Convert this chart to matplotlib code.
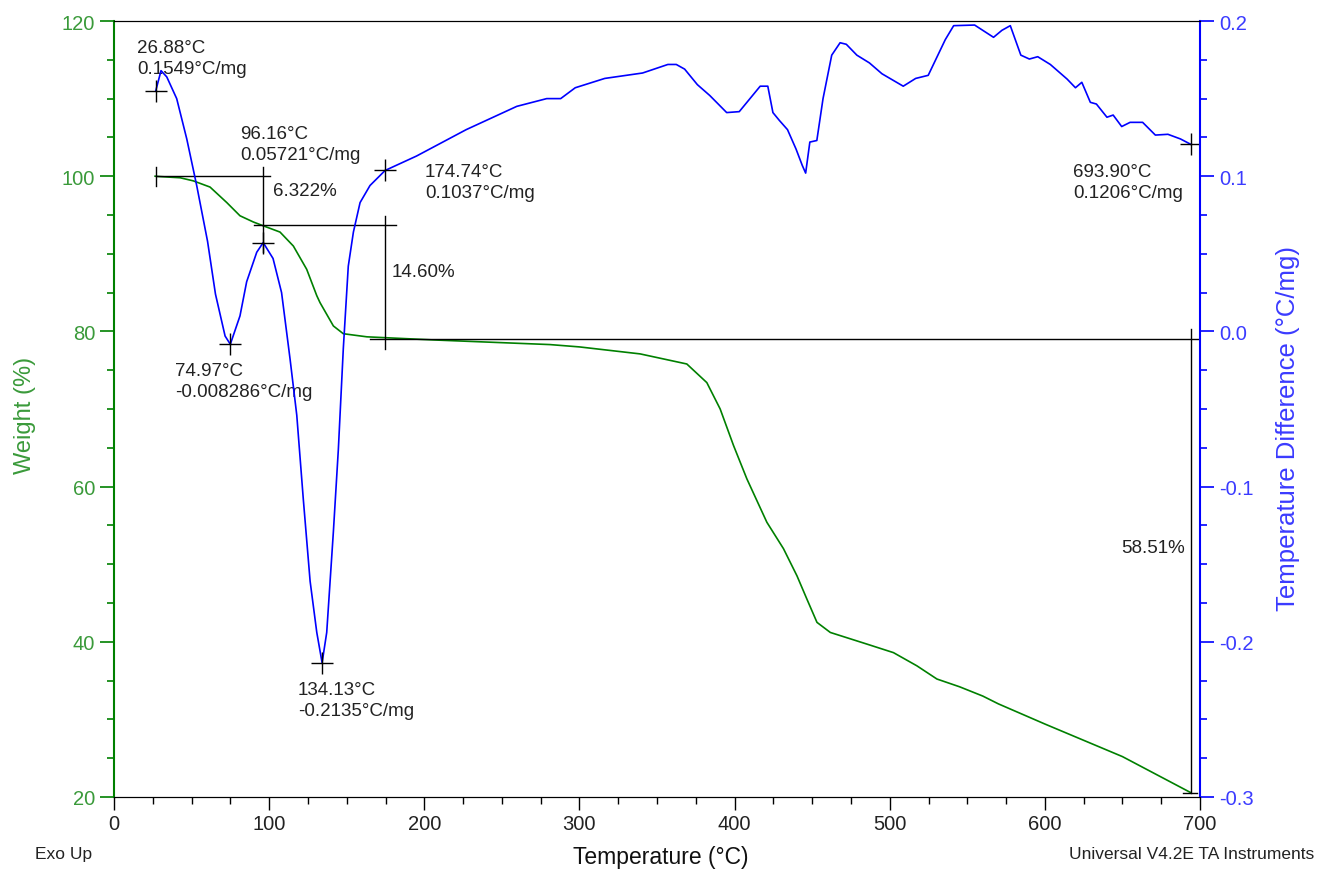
#importing libraries
import numpy as np
import matplotlib.pyplot as plt
from matplotlib.ticker import MultipleLocator

plt.rcParams['font.family'] = ['Liberation Sans', 'DejaVu Sans']

#Weight curve (TGA)
temp_w = [26.5, 29.7, 42.6, 51.1, 61.9, 72.7, 81.2, 89.8, 96.3, 107.0, 115.6, 124.2,
          130.7, 132.8, 141.4, 147.8, 163.0, 205.7, 281.0, 300.0, 339.1, 369.2, 382.1,
          390.7, 399.3, 407.9, 420.8, 431.5, 440.2, 446.6, 453.1, 461.7, 485.3, 502.4,
          517.5, 530.4, 545.0, 560.0, 570.0, 600.0, 650.0, 693.9]
weight = [100.0, 99.95, 99.8, 99.4, 98.6, 96.6, 94.9, 94.1, 93.6, 92.8, 91.0, 88.0,
          84.6, 83.7, 80.7, 79.7, 79.3, 78.9, 78.3, 78.0, 77.1, 75.8, 73.4,
          70.0, 65.3, 61.0, 55.4, 52.0, 48.5, 45.5, 42.5, 41.2, 39.7, 38.6,
          36.9, 35.2, 34.2, 33.0, 32.0, 29.4, 25.2, 20.57]

#Temperature difference curve (DTA)
temp_d = [26.88, 30.3, 34.0, 40.4, 46.9, 53.3, 60.3, 65.4, 71.6, 74.97, 81.2, 85.5, 92.0,
          96.16, 102.5, 108.0, 113.5, 117.8, 122.0, 126.4, 130.7, 134.13, 137.1, 141.4,
          144.6, 147.8, 151.0, 154.3, 158.6, 165.0, 174.74, 195.0, 227.0, 259.6, 278.9,
          281.0, 287.9, 297.3, 316.3, 340.7, 357.0, 362.4, 367.8, 376.0, 384.0, 394.9,
          403.0, 416.5, 421.4, 424.7, 428.8, 434.1, 439.6, 443.6, 445.8, 448.5, 453.0,
          457.0, 462.6, 468.0, 472.0, 478.8, 486.9, 495.0, 508.7, 516.7, 524.8, 535.8,
          541.2, 554.7, 566.9, 572.3, 577.7, 584.5, 590.0, 595.4, 603.5, 614.3, 619.7,
          623.8, 629.3, 633.2, 640.0, 644.0, 649.5, 654.9, 663.0, 671.2, 679.3, 687.4,
          693.9]
delta_t = [0.1549, 0.168, 0.164, 0.150, 0.124, 0.094, 0.058, 0.024, -0.003, -0.008286,
           0.010, 0.032, 0.051, 0.05721, 0.047, 0.025, -0.018, -0.054, -0.108, -0.161,
           -0.194, -0.2135, -0.194, -0.129, -0.076, -0.011, 0.042, 0.064, 0.083, 0.094,
           0.1037, 0.113, 0.130, 0.145, 0.150, 0.150, 0.150, 0.157, 0.163, 0.1665,
           0.172, 0.172, 0.169, 0.159, 0.152, 0.141, 0.1416, 0.158, 0.158, 0.141, 0.136,
           0.130, 0.1175, 0.107, 0.102, 0.122, 0.123, 0.150, 0.178, 0.186, 0.185, 0.178,
           0.173, 0.166, 0.158, 0.163, 0.165, 0.188, 0.197, 0.1974, 0.1895, 0.194, 0.197,
           0.178, 0.1755, 0.177, 0.172, 0.1626, 0.157, 0.1605, 0.1476, 0.1465, 0.138,
           0.1394, 0.132, 0.1347, 0.1347, 0.1265, 0.127, 0.124, 0.1206]

#Peak annotations on DTA curve
peak_t = [26.88, 74.97, 96.16, 134.13, 174.74, 693.90]
peak_d = [0.1549, -0.008286, 0.05721, -0.2135, 0.1037, 0.1206]
peak_lbl = ['26.88°C\n0.1549°C/mg', '74.97°C\n-0.008286°C/mg', '96.16°C\n0.05721°C/mg',
            '134.13°C\n-0.2135°C/mg', '174.74°C\n0.1037°C/mg', '693.90°C\n0.1206°C/mg']
#Weight steps
step_t = [26.88, 96.16, 174.74, 693.90]
step_w = [100.0, 93.678, 79.078, 20.568]
step_lbl = ['6.322%', '14.60%', '58.51%']

green = '#008000'
blue = '#0000ff'
green_lbl = '#3a9a3a'
blue_lbl = '#3b3bff'

fig = plt.figure(figsize=(13.18, 8.70), dpi=100)
ax = fig.add_axes([0.0865, 0.0828, 0.8240, 0.8919])
ax2 = ax.twinx()

ax.plot(temp_w, weight, color=green, lw=1.2)
ax2.plot(temp_d, delta_t, color=blue, lw=1.2)

ax.set_xlim(0, 700)
ax.set_ylim(20, 120)
ax2.set_ylim(-0.3, 0.2)

#Axis styling
ax.spines['left'].set_color(green)
ax.spines['left'].set_linewidth(1.5)
ax2.spines['left'].set_visible(False)
ax2.spines['right'].set_color(blue)
ax2.spines['right'].set_linewidth(1.5)
for s in ['top', 'bottom']:
    ax.spines[s].set_color('black')
    ax2.spines[s].set_color('black')
ax.spines['right'].set_visible(False)

ax.xaxis.set_major_locator(MultipleLocator(100))
ax.xaxis.set_minor_locator(MultipleLocator(25))
ax.yaxis.set_major_locator(MultipleLocator(20))
ax.yaxis.set_minor_locator(MultipleLocator(5))
ax2.yaxis.set_minor_locator(MultipleLocator(0.025))
ax2.set_yticks(np.arange(-0.3, 0.21, 0.1))
ax2.set_yticklabels(['-0.3', '-0.2', '-0.1', '0.0', '0.1', '0.2'])

ax.tick_params(axis='x', which='major', direction='out', length=9, width=1, labelsize=14.5,
               color='black', labelcolor='#222222')
ax.tick_params(axis='x', which='minor', direction='out', length=5, width=1, color='black')
ax.tick_params(axis='y', which='major', direction='out', length=10, width=1.2, labelsize=14.5,
               color=green, labelcolor=green_lbl)
ax.tick_params(axis='y', which='minor', direction='out', length=5, width=1.2, color=green)
ax2.tick_params(axis='y', which='major', direction='out', length=10, width=1.2, labelsize=14.5,
                color=blue, labelcolor=blue_lbl)
ax2.tick_params(axis='y', which='minor', direction='out', length=5, width=1.2, color=blue)

ax.set_xlabel('Temperature (°C)', fontsize=16.5, color='#111111', va='center')
ax.xaxis.set_label_coords(0.503, -0.0773)
ax.set_ylabel('Weight (%)', fontsize=17, color=green_lbl, va='center')
ax.yaxis.set_label_coords(-0.082, 0.4936)
ax2.set_ylabel('Temperature Difference (°C/mg)', fontsize=18.5, color=blue_lbl, va='center')
ax2.yaxis.set_label_coords(1.081, 0.4755)

#Peak crosshairs
ax2.plot(peak_t, peak_d, '+', color='black', ms=16, mew=1)

fs = 13.5
tc = '#222222'
lbl_x = [14.8, 39.3, 81.2, 118.6, 200.5, 618.3]
lbl_w = [115.2, 73.6, 104.15, 32.5, 99.2, 99.2]
for lx, ly, s in zip(lbl_x, lbl_w, peak_lbl):
    ax.text(lx, ly, s, fontsize=fs, color=tc, linespacing=1.3, va='center')

#Weight change step lines
k = dict(color='black', lw=1)
ax.plot([step_t[0], step_t[0]], [98.8, 101.2], **k)
ax.plot([step_t[0], 100.5], [step_w[0], step_w[0]], **k)
ax.plot([step_t[1], step_t[1]], [90.2, 101.2], **k)
ax.plot([90.0, 182.0], [step_w[1], step_w[1]], **k)
ax.plot([step_t[2], step_t[2]], [77.7, 94.9], **k)
ax.plot([165.0, 700.0], [step_w[2], step_w[2]], **k)
ax.plot([step_t[3], step_t[3]], [step_w[3], 80.3], **k)
ax.plot([689.0, 698.0], [step_w[3], step_w[3]], **k)
ax.text(102.5, 98.1, step_lbl[0], fontsize=fs, color=tc, va='center')
ax.text(179.2, 87.7, step_lbl[1], fontsize=fs, color=tc, va='center')
ax.text(690.0, 52.1, step_lbl[2], fontsize=fs, color=tc, va='center', ha='right')

fig.text(35 / 1318, 1 - 855 / 870, 'Exo Up', fontsize=12.5, va='center', color=tc)
fig.text(1314 / 1318, 1 - 855 / 870, 'Universal V4.2E TA Instruments', fontsize=12.5,
         va='center', ha='right', color=tc)

plt.savefig('out.png', dpi=100)
